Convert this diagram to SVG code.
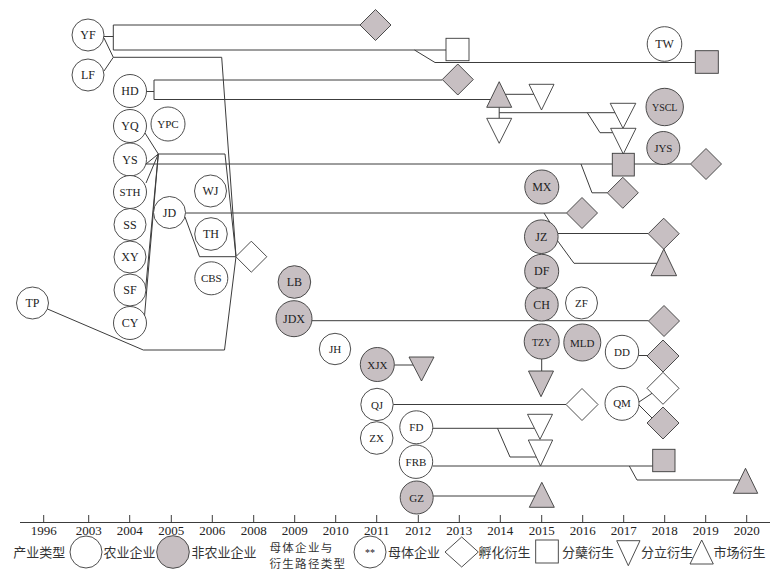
<svg xmlns="http://www.w3.org/2000/svg" width="779" height="580" viewBox="0 0 779 580">
<style>
.w{fill:#fff;stroke:#3a3a3a;stroke-width:0.9}
.g{fill:#c7bfc2;stroke:#3a3a3a;stroke-width:0.9}
.c{fill:none;stroke:#3c3c3c;stroke-width:1}
text{font-family:"Liberation Serif","Times New Roman",serif;fill:#222;text-anchor:middle}
.n{font-size:12px}
.n3{font-size:11px}
.n4{font-size:10px}
.yr{font-size:13px}
.cj{font-family:"Noto Sans CJK SC","Noto Sans",sans-serif;font-size:13px;text-anchor:start;fill:#333}
.cs{font-size:11.5px;letter-spacing:1.3px}
</style>
<rect width="779" height="580" fill="#fff"/>
<g id="connectors">
<polyline class="c" points="104,36.5 113.3,36.5"/>
<polyline class="c" points="113.3,25 113.3,50"/>
<polyline class="c" points="113.3,25 360,25"/>
<polyline class="c" points="113.3,50 446,50"/>
<polyline class="c" points="414.5,50 435,62.5 695.3,62.5"/>
<polyline class="c" points="104,38 113.3,57.3 104,71"/>
<polyline class="c" points="113.3,57.3 221.7,57.3 236,256.7 224.5,350 143.3,350 47.5,309"/>
<polyline class="c" points="146.5,91.5 154,91.5"/>
<polyline class="c" points="154,80 154,99.5"/>
<polyline class="c" points="154,80 442.3,80"/>
<polyline class="c" points="154,99.5 490.5,99.5"/>
<polyline class="c" points="505.3,94.3 533.9,94.3"/>
<polyline class="c" points="499.2,107.3 499.2,118.3"/>
<polyline class="c" points="499.2,112.7 615,112.7"/>
<polyline class="c" points="587.3,112.7 600,132.7 612.8,132.7"/>
<polyline class="c" points="145,133 158.3,154 146,183"/>
<polyline class="c" points="146,164 158.3,154"/>
<polyline class="c" points="146,164 612.3,164"/>
<polyline class="c" points="634.3,164 690.5,164"/>
<polyline class="c" points="145.5,290 158.3,154 144.5,316"/>
<polyline class="c" points="158.3,154 225,154 236,256.7"/>
<polyline class="c" points="581,164 592,192.8 607.3,192.8"/>
<polyline class="c" points="185.5,213 566.5,213"/>
<polyline class="c" points="185,217 199.5,256.7 235.8,256.7"/>
<polyline class="c" points="544,213 550,222.5"/>
<polyline class="c" points="558,233.5 648.2,233.5"/>
<polyline class="c" points="557,240 574,263.3 656.9,263.3"/>
<polyline class="c" points="312,320.7 648.5,320.7"/>
<polyline class="c" points="541.7,359 541.7,371"/>
<polyline class="c" points="394.3,365 413.2,365"/>
<polyline class="c" points="393.2,404.5 566,404.5"/>
<polyline class="c" points="638.3,355.5 647.5,355.5"/>
<polyline class="c" points="639,402 652,393.3"/>
<polyline class="c" points="639,405 652,418"/>
<polyline class="c" points="432.8,428.3 534.5,428.3"/>
<polyline class="c" points="497.5,428.3 510,457 536.3,457"/>
<polyline class="c" points="432.7,466 652.7,466"/>
<polyline class="c" points="629.3,466 637,480 739.8,480"/>
<polyline class="c" points="433.2,496 535,496"/>
</g>
<g id="shapes">
<polygon id="d1" class="g" points="375.5,9.5 391,25 375.5,40.5 360,25"/>
<polygon id="d2" class="g" points="457.8,64 473.3,79.5 457.8,95 442.3,79.5"/>
<polygon id="d3" class="w" points="251.3,241.2 266.8,256.7 251.3,272.2 235.8,256.7"/>
<polygon id="d4" class="g" points="582,197.5 597.5,213 582,228.5 566.5,213"/>
<polygon id="d5" class="g" points="622.8,177.3 638.3,192.8 622.8,208.3 607.3,192.8"/>
<polygon id="d6" class="g" points="706,148.5 721.5,164 706,179.5 690.5,164"/>
<polygon id="d7" class="g" points="663.7,218.2 679.2,233.7 663.7,249.2 648.2,233.7"/>
<polygon id="d8" class="g" points="664,305.5 679.5,321 664,336.5 648.5,321"/>
<polygon id="d9" class="g" points="663,340 679,356 663,372 647,356"/>
<polygon id="d10" class="w" points="663,372.3 679,388.3 663,404.3 647,388.3"/>
<polygon id="d11" class="g" points="663,407 679,423 663,439 647,423"/>
<polygon id="d12" class="w" points="582,388.5 598,404.5 582,420.5 566,404.5"/>
<rect id="s1" class="w" x="446" y="38.3" width="23" height="22.4"/>
<rect id="s2" class="g" x="695.3" y="50.7" width="23" height="22.6"/>
<rect id="s3" class="g" x="612.3" y="153.3" width="22" height="22.7"/>
<rect id="s4" class="g" x="652.7" y="449.3" width="22.3" height="22.4"/>
<polygon id="u1" class="g" points="499.2,81.7 511.7,107.3 486.7,107.3"/>
<polygon id="u2" class="g" points="663.8,249 676.6,275.7 651,275.7"/>
<polygon id="u3" class="g" points="745.5,468.3 757.7,493.3 733.3,493.3"/>
<polygon id="u4" class="g" points="541.8,482.3 554.3,507.3 529.3,507.3"/>
<polygon id="v1" class="w" points="529,84.3 554,84.3 541.5,110"/>
<polygon id="v2" class="w" points="486.7,118.3 511.7,118.3 499.2,143.3"/>
<polygon id="v3" class="w" points="610.2,103.3 635.8,103.3 623,128.3"/>
<polygon id="v4" class="w" points="610.6,128.3 636,128.3 623.3,154"/>
<polygon id="v5" class="g" points="409,357 434,357 421.5,381"/>
<polygon id="v6" class="g" points="528.5,371 553.5,371 541,396.7"/>
<polygon id="v7" class="w" points="527.5,414.3 552.5,414.3 540,439.3"/>
<polygon id="v8" class="w" points="528.3,440 552.7,440 540.5,466"/>
</g>
<g id="YF"><circle class="w" cx="88" cy="35" r="16"/><text class="n" x="88" y="39">YF</text></g>
<g id="LF"><circle class="w" cx="88" cy="75" r="16"/><text class="n" x="88" y="79">LF</text></g>
<g id="HD"><circle class="w" cx="130" cy="91" r="16.5"/><text class="n" x="130" y="95">HD</text></g>
<g id="YQ"><circle class="w" cx="130" cy="126" r="16.5"/><text class="n" x="130" y="130">YQ</text></g>
<g id="YPC"><circle class="w" cx="168" cy="124" r="17"/><text class="n3" x="168" y="128">YPC</text></g>
<g id="YS"><circle class="w" cx="130" cy="159.5" r="16.5"/><text class="n" x="130" y="163.5">YS</text></g>
<g id="STH"><circle class="w" cx="130" cy="192" r="16.5"/><text class="n3" x="130" y="196">STH</text></g>
<g id="SS"><circle class="w" cx="130" cy="224.5" r="16"/><text class="n" x="130" y="228.5">SS</text></g>
<g id="XY"><circle class="w" cx="130" cy="257" r="16"/><text class="n" x="130" y="261">XY</text></g>
<g id="SF"><circle class="w" cx="130" cy="290" r="16"/><text class="n" x="130" y="294">SF</text></g>
<g id="CY"><circle class="w" cx="130" cy="323" r="16.5"/><text class="n" x="130" y="327">CY</text></g>
<g id="TP"><circle class="w" cx="32.5" cy="303" r="16"/><text class="n" x="32.5" y="307">TP</text></g>
<g id="JD"><circle class="w" cx="169.5" cy="212.5" r="16"/><text class="n" x="169.5" y="216.5">JD</text></g>
<g id="WJ"><circle class="w" cx="210.5" cy="191" r="16"/><text class="n" x="210.5" y="195">WJ</text></g>
<g id="TH"><circle class="w" cx="211" cy="234" r="16.3"/><text class="n" x="211" y="238">TH</text></g>
<g id="CBS"><circle class="w" cx="211.3" cy="278.3" r="16.5"/><text class="n3" x="211.3" y="282.3">CBS</text></g>
<g id="LB"><circle class="g" cx="294.4" cy="282" r="16.3"/><text class="n" x="294.4" y="286">LB</text></g>
<g id="JDX"><circle class="g" cx="294" cy="318.7" r="18"/><text class="n" x="294" y="322.7">JDX</text></g>
<g id="JH"><circle class="w" cx="335" cy="349" r="15.7"/><text class="n3" x="335" y="353">JH</text></g>
<g id="XJX"><circle class="g" cx="377.3" cy="364.5" r="17"/><text class="n3" x="377.3" y="368.5">XJX</text></g>
<g id="QJ"><circle class="w" cx="377" cy="404.5" r="16.2"/><text class="n3" x="377" y="408.5">QJ</text></g>
<g id="ZX"><circle class="w" cx="376.7" cy="438" r="16.3"/><text class="n3" x="376.7" y="442">ZX</text></g>
<g id="FD"><circle class="w" cx="416.3" cy="427.3" r="16.5"/><text class="n3" x="416.3" y="431.3">FD</text></g>
<g id="FRB"><circle class="w" cx="416" cy="461.7" r="16.7"/><text class="n3" x="416" y="465.7">FRB</text></g>
<g id="GZ"><circle class="g" cx="416.7" cy="497.5" r="16.5"/><text class="n3" x="416.7" y="501.5">GZ</text></g>
<g id="MX"><circle class="g" cx="541.8" cy="187" r="17"/><text class="n" x="541.8" y="191">MX</text></g>
<g id="JZ"><circle class="g" cx="541.3" cy="236.7" r="16.8"/><text class="n" x="541.3" y="240.7">JZ</text></g>
<g id="DF"><circle class="g" cx="541.7" cy="271.3" r="17"/><text class="n" x="541.7" y="275.3">DF</text></g>
<g id="CH"><circle class="g" cx="541.7" cy="304.5" r="16.5"/><text class="n" x="541.7" y="308.5">CH</text></g>
<g id="TZY"><circle class="g" cx="541.7" cy="341.5" r="17.5"/><text class="n4" x="541.7" y="345.5">TZY</text></g>
<g id="ZF"><circle class="w" cx="581.5" cy="303" r="16"/><text class="n3" x="581.5" y="307">ZF</text></g>
<g id="MLD"><circle class="g" cx="582.3" cy="342.5" r="18.5"/><text class="n3" x="582.3" y="346.5">MLD</text></g>
<g id="DD"><circle class="w" cx="622" cy="352" r="16.7"/><text class="n3" x="622" y="356">DD</text></g>
<g id="QM"><circle class="w" cx="622" cy="403.3" r="17"/><text class="n3" x="622" y="407.3">QM</text></g>
<g id="TW"><circle class="w" cx="664.5" cy="44" r="17.3"/><text class="n" x="664.5" y="48">TW</text></g>
<g id="YSCL"><circle class="g" cx="664.7" cy="107" r="18.7"/><text class="n4" x="664.7" y="111">YSCL</text></g>
<g id="JYS"><circle class="g" cx="663.3" cy="148" r="16.5"/><text class="n3" x="663.3" y="152">JYS</text></g>
<g id="axis">
<line class="c" x1="20" y1="522.5" x2="770" y2="522.5"/>
<path class="c" d="M43.7,515V522.5M88.7,515V522.5M129.7,515V522.5M171.3,515V522.5M212.3,515V522.5M253.7,515V522.5M294.7,515V522.5M335.7,515V522.5M376.7,515V522.5M418.3,515V522.5M459.3,515V522.5M500.3,515V522.5M541.7,515V522.5M582.7,515V522.5M623.7,515V522.5M664.7,515V522.5M705.7,515V522.5M746.7,515V522.5"/>
<text class="yr" x="43.7" y="534.5">1996</text>
<text class="yr" x="88.7" y="534.5">2003</text>
<text class="yr" x="129.7" y="534.5">2004</text>
<text class="yr" x="171.3" y="534.5">2005</text>
<text class="yr" x="212.3" y="534.5">2006</text>
<text class="yr" x="253.7" y="534.5">2008</text>
<text class="yr" x="294.7" y="534.5">2009</text>
<text class="yr" x="335.7" y="534.5">2010</text>
<text class="yr" x="376.7" y="534.5">2011</text>
<text class="yr" x="418.3" y="534.5">2012</text>
<text class="yr" x="459.3" y="534.5">2013</text>
<text class="yr" x="500.3" y="534.5">2014</text>
<text class="yr" x="541.7" y="534.5">2015</text>
<text class="yr" x="582.7" y="534.5">2016</text>
<text class="yr" x="623.7" y="534.5">2017</text>
<text class="yr" x="664.7" y="534.5">2018</text>
<text class="yr" x="705.7" y="534.5">2019</text>
<text class="yr" x="746.7" y="534.5">2020</text>
</g>
<g id="legend">
<text class="cj" x="13.3" y="557">产业类型</text>
<circle class="w" cx="86" cy="552" r="16"/>
<text class="cj" x="103.5" y="557">农业企业</text>
<circle class="g" cx="173" cy="552" r="16.3"/>
<text class="cj" x="191.5" y="557">非农业企业</text>
<text class="cj cs" x="269.5" y="551.5">母体企业与</text>
<text class="cj cs" x="269.5" y="568.3">衍生路径类型</text>
<circle class="w" cx="370" cy="552" r="16"/>
<text x="370" y="556" style="font-size:10px">**</text>
<text class="cj" x="388" y="557">母体企业</text>
<polygon class="w" points="461.7,537 478.3,552 461.7,567 445,552"/>
<text class="cj" x="478.5" y="557">孵化衍生</text>
<rect class="w" x="535.7" y="540" width="22.6" height="23"/>
<text class="cj" x="562" y="557">分蘖衍生</text>
<polygon class="w" points="616.7,540.7 640,540.7 628.3,565.7"/>
<text class="cj" x="641" y="557">分立衍生</text>
<polygon class="w" points="701.7,540 713.3,564 690,564"/>
<text class="cj" x="713.5" y="557">市场衍生</text>
</g>
</svg>
